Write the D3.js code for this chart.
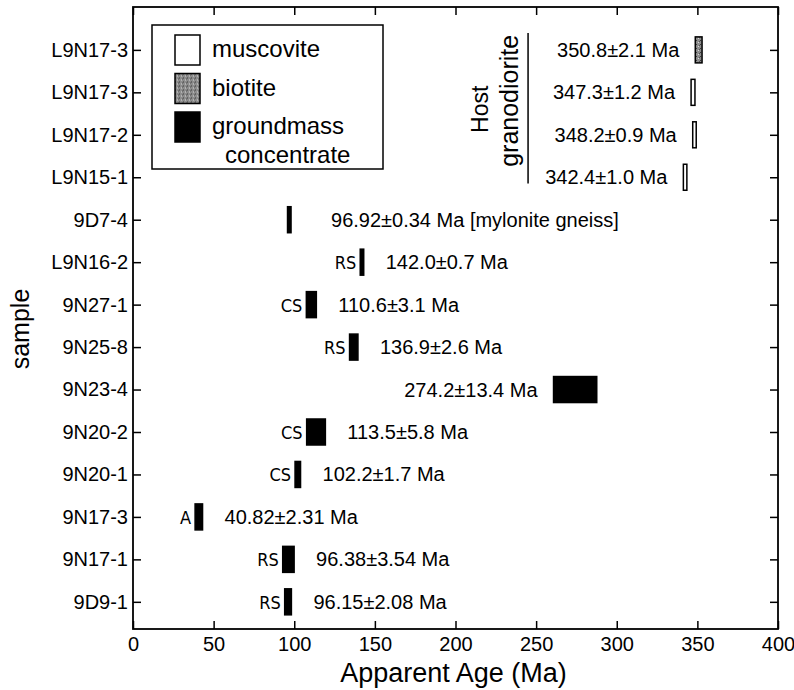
<!DOCTYPE html>
<html>
<head>
<meta charset="utf-8">
<script src="https://cdn.jsdelivr.net/npm/d3@7"></script>
<style>
  body { margin: 0; background: #fff; }
  text { font-family: "Liberation Sans", Arial, sans-serif; fill: #000; }
</style>
</head>
<body>
<script>
// samples listed top to bottom
var samples  = ["L9N17-3","L9N17-3","L9N17-2","L9N15-1","9D7-4","L9N16-2","9N27-1","9N25-8","9N23-4","9N20-2","9N20-1","9N17-3","9N17-1","9D9-1"];
var ages     = [350.8, 347.3, 348.2, 342.4, 96.92, 142.0, 110.6, 136.9, 274.2, 113.5, 102.2, 40.82, 96.38, 96.15];
var errors   = [2.1, 1.2, 0.9, 1.0, 0.34, 0.7, 3.1, 2.6, 13.4, 5.8, 1.7, 2.31, 3.54, 2.08];
var digits   = [1, 1, 1, 1, 2, 1, 1, 1, 1, 1, 1, 2, 2, 2];
var minerals = ["biotite","muscovite","muscovite","muscovite","groundmass","groundmass","groundmass","groundmass","groundmass","groundmass","groundmass","groundmass","groundmass","groundmass"];
var methods  = ["","","","","","RS","CS","RS","","CS","CS","A","RS","RS"];
var notes    = ["","","","","[mylonite gneiss]","","","","","","","","",""];
var xTicks   = [0,50,100,150,200,250,300,350,400];
var legendItems = ["muscovite","biotite","groundmass"];
var legendText  = [["muscovite"],["biotite"],["groundmass","concentrate"]];

var W = 794, H = 690;
var m = {l: 133, r: 778, t: 7, b: 629};

var svg = d3.select("body").append("svg")
    .attr("width", W)
    .attr("height", H);

var x = d3.scaleLinear().domain([0, 400]).range([m.l, m.r]);
var y = d3.scaleLinear().domain([-1.01, 13.64]).range([m.t, m.b]);
var rows = d3.range(samples.length);

// biotite speckle
var pat = svg.append("defs").append("pattern")
    .attr("id", "biotite")
    .attr("patternUnits", "userSpaceOnUse")
    .attr("width", 4).attr("height", 4);
pat.append("rect").attr("width", 4).attr("height", 4).attr("fill", "#8c8c8c");
pat.append("rect").attr("width", 1).attr("height", 1).attr("fill", "#3a3a3a");
pat.append("rect").attr("x", 2).attr("y", 2).attr("width", 1).attr("height", 1).attr("fill", "#d8d8d8");
pat.append("rect").attr("x", 3).attr("y", 1).attr("width", 1).attr("height", 1).attr("fill", "#555");

var fills = {muscovite: "#fff", biotite: "url(#biotite)", groundmass: "#000"};

//****************************** Axes ******************************
var gl = svg.append("g").attr("transform", "translate(" + m.l + ",0)")
    .call(d3.axisLeft(y).tickValues(rows).tickFormat(function(i){ return samples[i]; })
      .tickSizeInner(-8).tickSizeOuter(0).tickPadding(5));
var gr = svg.append("g").attr("transform", "translate(" + m.r + ",0)")
    .call(d3.axisRight(y).tickValues(rows).tickFormat("")
      .tickSizeInner(-8).tickSizeOuter(0));
var gb = svg.append("g").attr("transform", "translate(0," + m.b + ")")
    .call(d3.axisBottom(x).tickValues(xTicks).tickFormat(d3.format("d"))
      .tickSizeInner(-8).tickSizeOuter(0).tickPadding(8));
var gt = svg.append("g").attr("transform", "translate(0," + m.t + ")")
    .call(d3.axisTop(x).tickValues(xTicks).tickFormat("")
      .tickSizeInner(-8).tickSizeOuter(0));

[gl, gr, gb, gt].forEach(function(g){
  g.select(".domain").remove();
  g.selectAll(".tick line").attr("stroke", "#000").attr("stroke-width", 1.5);
  g.selectAll(".tick text")
    .attr("font-family", "'Liberation Sans', Arial, sans-serif")
    .attr("font-size", "20px")
    .attr("fill", "#000");
});

svg.append("rect")
    .attr("x", m.l).attr("y", m.t)
    .attr("width", m.r - m.l).attr("height", m.b - m.t)
    .attr("fill", "none").attr("stroke", "#000").attr("stroke-width", 1.8);

svg.append("text")
    .attr("x", (m.l + m.r) / 2 - 2)
    .attr("y", 682)
    .attr("text-anchor", "middle")
    .attr("font-size", "27px")
    .text("Apparent Age (Ma)");

svg.append("text")
    .attr("transform", "translate(29," + ((m.t + m.b) / 2 + 11) + ") rotate(-90)")
    .attr("text-anchor", "middle")
    .attr("font-size", "25px")
    .text("sample");

//****************************** Bars ******************************
var barH = 26;
function barW(i){ return Math.max(x(ages[i] + errors[i]) - x(ages[i] - errors[i]), 3.5); }
function barL(i){ return x(ages[i]) - barW(i) / 2; }
function barR(i){ return x(ages[i]) + barW(i) / 2; }

svg.selectAll("rect.bar")
    .data(rows)
    .enter().append("rect")
      .attr("class", "bar")
      .attr("x", function(i){ return barL(i); })
      .attr("y", function(i){ return y(i) - barH / 2; })
      .attr("width", function(i){ return barW(i); })
      .attr("height", barH)
      .attr("fill", function(i){ return fills[minerals[i]]; })
      .attr("stroke", "#000")
      .attr("stroke-width", 1.5);

// method tags
svg.selectAll("text.method")
    .data(rows.filter(function(i){ return methods[i]; }))
    .enter().append("text")
      .attr("class", "method")
      .attr("x", function(i){ return barL(i) - 4; })
      .attr("y", function(i){ return y(i) + 7; })
      .attr("text-anchor", "end")
      .attr("font-stretch", "condensed")
      .style("font-family", "'DejaVu Sans Condensed', 'DejaVu Sans', sans-serif")
      .attr("font-size", "18px")
      .text(function(i){ return methods[i]; });

// age labels: old ages sit left of the bar
svg.selectAll("text.age")
    .data(rows)
    .enter().append("text")
      .attr("class", "age")
      .attr("x", function(i){
        if (ages[i] > 250) return barL(i) - 16;
        return barR(i) + (notes[i] ? 40 : 22);
      })
      .attr("y", function(i){ return y(i) + 7; })
      .attr("text-anchor", function(i){ return ages[i] > 250 ? "end" : "start"; })
      .attr("font-size", "20px")
      .text(function(i){
        var f = d3.format("." + digits[i] + "f");
        return f(ages[i]) + "\u00b1" + f(errors[i]) + " Ma" + (notes[i] ? " " + notes[i] : "");
      });

//****************************** Host granodiorite ******************************
svg.append("line")
    .attr("x1", x(245)).attr("x2", x(245))
    .attr("y1", y(-0.4)).attr("y2", y(3.15))
    .attr("stroke", "#000").attr("stroke-width", 1.5);
svg.append("text")
    .attr("transform", "translate(" + (x(215) + 8) + "," + y(1.4) + ") rotate(-90)")
    .attr("text-anchor", "middle")
    .attr("font-size", "23px")
    .text("Host");
svg.append("text")
    .attr("transform", "translate(" + (x(234) + 8) + "," + y(1.2) + ") rotate(-90)")
    .attr("text-anchor", "middle")
    .attr("font-size", "25px")
    .text("granodiorite");

//****************************** Legend ******************************
var lg = svg.append("g");
lg.append("rect")
    .attr("x", 152).attr("y", 25).attr("width", 231).attr("height", 144)
    .attr("fill", "#fff").attr("stroke", "#000").attr("stroke-width", 1.5);
var item = lg.selectAll("g.item")
    .data(legendItems)
    .enter().append("g")
      .attr("class", "item")
      .attr("transform", function(d, i){ return "translate(175," + (35 + i * 38.5) + ")"; });
item.append("rect")
    .attr("width", 25).attr("height", 30)
    .attr("fill", function(d){ return fills[d]; })
    .attr("stroke", "#000").attr("stroke-width", 1.5);
item.append("text")
    .attr("x", 37).attr("y", 22)
    .attr("font-size", "24px")
    .selectAll("tspan")
    .data(function(d, i){ return legendText[i]; })
    .enter().append("tspan")
      .attr("x", function(d, j){ return j ? 50 : 37; })
      .attr("dy", function(d, j){ return j ? 29 : 0; })
      .text(function(d){ return d; });
</script>
</body>
</html>
